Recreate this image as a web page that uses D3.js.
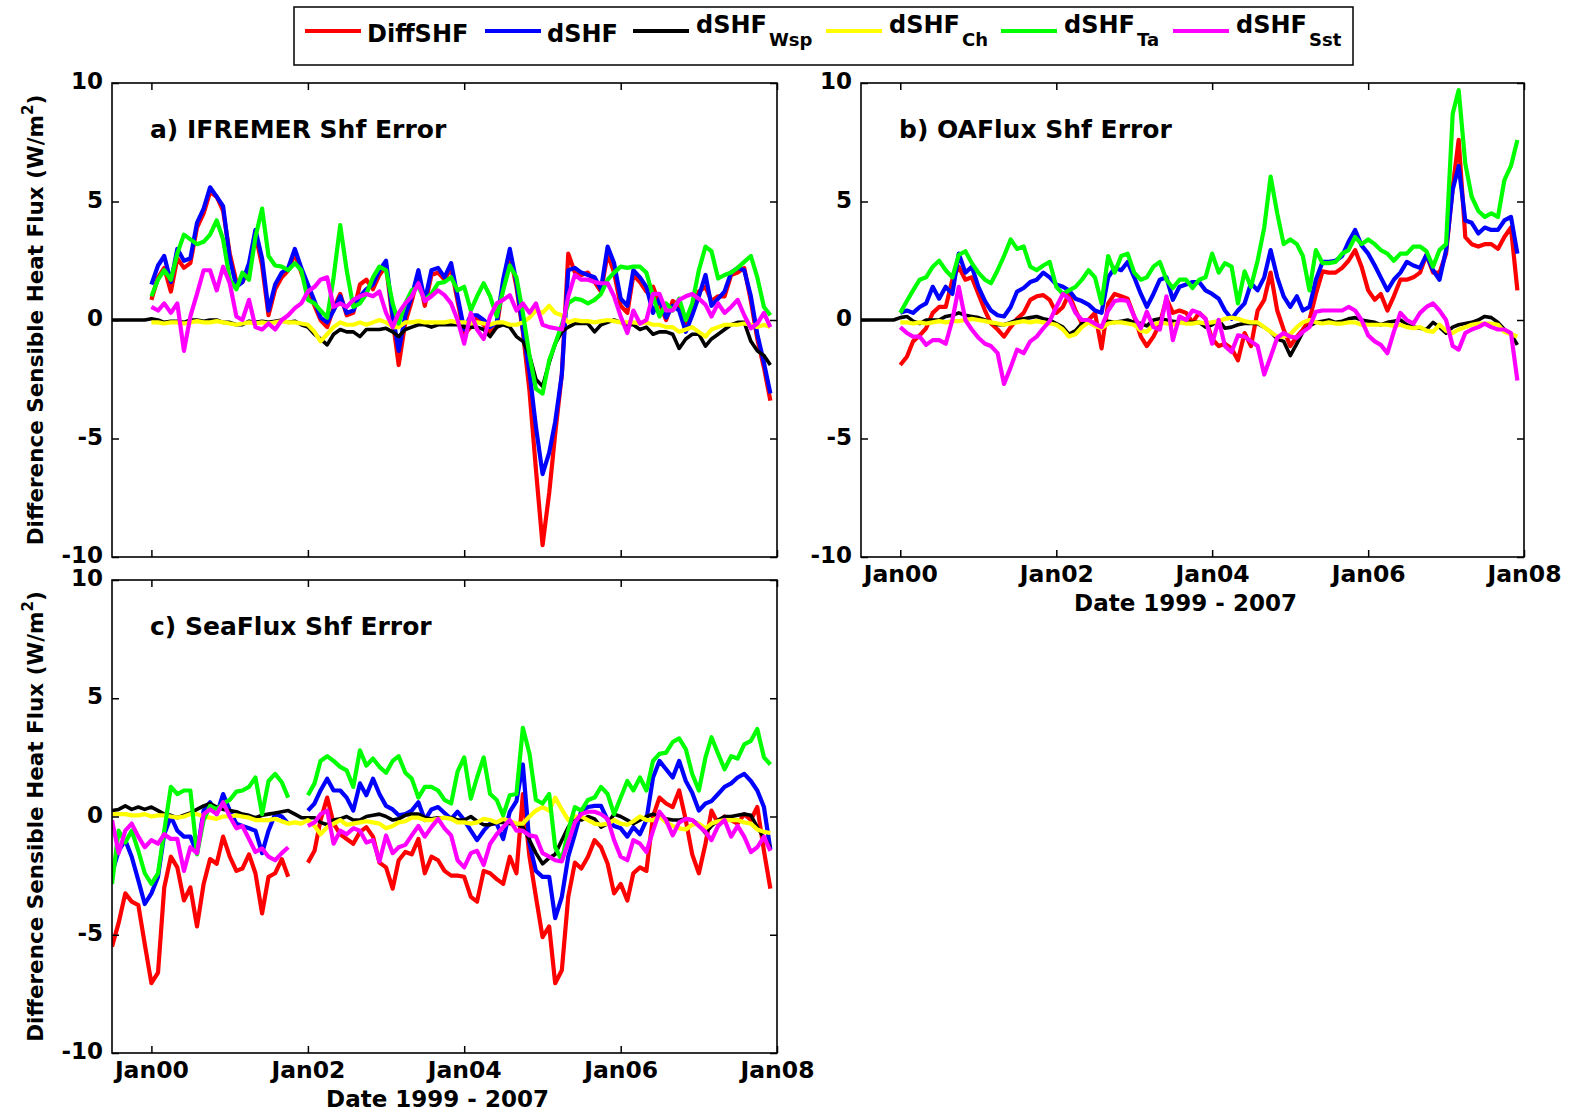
<!DOCTYPE html>
<html>
<head>
<meta charset="utf-8">
<script src="https://cdn.jsdelivr.net/npm/d3@7"></script>
<style>
  body { margin: 0; background: #fff; }
  svg text { font-family: "DejaVu Sans", "Liberation Sans", Arial, sans-serif; font-weight: bold; fill: #000; }
</style>
</head>
<body>
<svg id="fig" width="1572" height="1111"></svg>
<script>
// Monthly values, July 1999 .. December 2007 (102 months). null = no data.

// ---- a) IFREMER ----
const ifrDiff = [null,null,null,null,null,null,
  0.85,1.8,2.2,1.2,2.6,2.2,2.4,3.9,4.5,5.4,5.2,4.6,
  2.8,1.6,1.6,2.2,3.6,2.3,0.2,1.3,1.8,2.1,2.8,2.0,
  1.3,0.6,0.0,-0.3,0.5,1.1,0.2,0.3,1.5,1.7,1.3,1.9,
  2.3,0.0,-1.9,-0.1,0.8,1.9,0.6,1.9,2.0,1.7,2.2,0.8,
  -0.6,-0.3,0.1,-0.2,-0.5,-0.3,1.5,2.8,1.4,-0.5,-3.0,-6.3,
  -9.5,-7.3,-4.8,-2.3,2.8,2.0,1.9,2.0,1.6,1.2,2.8,2.0,
  0.6,0.3,1.9,1.6,1.2,1.4,0.7,0.0,0.8,0.6,-0.3,0.4,
  1.2,1.4,0.8,1.0,1.0,1.9,2.0,2.2,0.8,-0.8,-2.0,-3.4];
const ifrD = [null,null,null,null,null,null,
  1.5,2.3,2.7,1.6,3.0,2.5,2.6,4.1,4.7,5.6,5.2,4.8,
  2.6,1.4,1.6,2.4,3.8,2.6,0.4,1.5,2.0,2.2,3.0,2.2,
  1.5,0.8,0.1,-0.1,0.4,1.0,0.3,0.4,1.0,1.3,1.5,2.1,
  2.5,0.2,-1.3,0.2,1.0,2.1,0.8,2.1,2.2,1.8,2.4,1.0,
  -0.4,0.2,0.2,0.0,-0.3,-0.1,1.7,3.0,1.6,-0.4,-2.2,-4.5,
  -6.5,-5.6,-4.3,-2.3,2.1,2.2,2.0,1.9,1.8,1.3,3.1,2.4,
  0.9,0.6,2.1,1.8,1.4,0.3,0.9,0.1,0.6,0.4,-0.5,0.2,
  1.0,1.9,0.6,0.9,1.2,2.0,2.2,2.1,1.0,-0.6,-1.8,-3.1];
const ifrWsp = [0,0,0,0,0,0,
  0.05,0,-0.1,-0.05,-0.05,-0.1,0,0,-0.05,0,0,-0.1,
  -0.1,-0.2,-0.2,-0.05,-0.1,-0.05,-0.1,-0.05,0,-0.1,-0.05,-0.2,
  -0.3,-0.6,-0.8,-1.05,-0.6,-0.4,-0.5,-0.5,-0.7,-0.4,-0.4,-0.4,
  -0.35,-0.5,-0.7,-0.4,-0.3,-0.2,-0.2,-0.3,-0.2,-0.2,-0.2,-0.2,
  -0.3,-0.3,-0.3,-0.4,-0.7,-0.3,-0.2,-0.3,-0.7,-0.9,-1.5,-2.5,
  -2.8,-1.8,-1.0,-0.5,-0.3,-0.15,-0.15,-0.15,-0.5,-0.2,-0.1,0,
  -0.1,-0.2,-0.2,-0.4,-0.3,-0.6,-0.5,-0.5,-0.6,-1.2,-0.8,-0.6,
  -0.6,-1.1,-0.8,-0.6,-0.4,-0.2,-0.1,-0.1,-0.9,-1.3,-1.5,-1.9];
const ifrCh = [null,null,null,null,null,null,
  -0.1,-0.1,-0.15,-0.1,-0.1,-0.15,-0.1,-0.05,-0.1,-0.1,-0.05,-0.1,
  -0.15,-0.2,-0.15,-0.1,-0.15,-0.1,-0.15,-0.1,-0.05,-0.1,-0.1,-0.15,
  -0.2,-0.5,-0.9,-0.6,-0.3,-0.1,-0.2,-0.2,-0.1,-0.2,-0.1,0,
  -0.1,-0.3,-0.3,-0.1,-0.1,-0.05,-0.1,-0.1,-0.1,-0.1,-0.05,-0.1,
  -0.1,-0.15,-0.1,-0.15,-0.2,-0.1,-0.1,-0.2,-0.2,-0.1,0.1,0.4,
  0.3,0.6,0.3,0.2,-0.1,0,-0.05,-0.05,-0.1,-0.05,0,-0.05,
  -0.1,-0.1,-0.1,-0.15,-0.1,-0.2,-0.2,-0.3,-0.3,-0.5,-0.4,-0.3,
  -0.5,-0.7,-0.4,-0.3,-0.2,-0.2,-0.2,-0.15,-0.2,-0.3,-0.2,-0.3];
const ifrTa = [null,null,null,null,null,null,
  1.0,1.7,2.1,1.7,2.8,3.6,3.4,3.2,3.3,3.6,4.2,3.4,
  1.7,1.3,2.0,1.7,3.5,4.7,2.7,2.3,2.25,2.1,2.4,2.1,
  0.85,0.7,0.4,0.1,1.8,4.0,2.1,0.55,0.7,1.1,1.8,2.25,
  2.1,0.7,-0.15,0.7,1.25,1.4,0.85,1.1,1.55,1.6,1.8,1.25,
  1.4,0.4,1.0,1.55,1.0,0.15,1.25,2.3,1.8,0.3,-1.5,-2.9,
  -3.1,-1.7,-1.0,-0.2,0.7,0.9,0.85,0.7,0.85,1.1,1.7,2.0,
  2.25,2.2,2.25,2.25,2.0,1.0,0.15,0.7,0.4,0.9,0.0,0.7,
  2.1,3.1,2.9,1.75,1.9,2.0,2.2,2.45,2.7,1.8,0.55,0.2];
const ifrSst = [null,null,null,null,null,null,
  0.55,0.4,0.7,0.3,0.7,-1.3,0.15,1.1,2.1,2.1,1.25,2.25,
  1.55,0.15,0.0,0.85,-0.3,-0.4,-0.15,-0.4,0,0.2,0.5,0.7,
  1.2,1.4,1.7,1.8,0.55,0.7,0.55,0.85,1.0,1.1,1.0,1.2,
  0.3,-0.3,0.3,0.7,1.0,1.55,0.8,1.0,1.25,1.05,0.7,0,
  -1.0,0.3,-0.4,-0.8,0.15,0.7,0.85,1.05,0.4,0.7,0.3,0.7,
  -0.2,-0.3,-0.35,-0.4,1.0,1.9,1.7,1.7,1.6,1.55,1.55,1.0,
  0.15,-0.55,0.4,-0.15,0,1.1,1.1,0.4,0.4,0.85,1.0,1.1,
  0.9,0.65,0.15,0.7,0.3,0.55,0.85,0.2,-0.35,-0.15,0.3,-0.3];

// ---- b) OAFlux ----
const oafDiff = [null,null,null,null,null,null,
  -1.9,-1.55,-0.9,-0.65,-0.35,0.3,0.55,0.55,1.7,2.25,1.7,1.8,
  1.1,0.4,-0.15,-0.4,-0.7,-0.3,0.05,0.3,0.85,1.0,1.05,0.85,
  0.3,0.55,1.1,0.4,-0.15,0.0,0.3,-1.2,0.7,1.1,1.0,0.9,
  0.15,-0.7,-1.1,-0.7,-0.15,0.9,0.3,0.4,0.3,-0.1,0.3,0.05,
  -0.8,-1.1,-1.0,-1.2,-1.7,-0.55,-1.1,0.4,0.85,2.0,0.4,-0.4,
  -1.1,-0.7,-0.4,0.0,1.1,2.05,2.0,2.0,2.2,2.5,2.95,2.25,
  1.25,0.85,1.1,0.4,1.0,1.7,1.7,1.8,2.0,2.75,2.0,2.0,
  2.8,5.6,7.6,3.5,3.2,3.1,3.2,3.2,3.0,3.5,3.9,1.25];
const oafD = [null,null,null,null,null,null,
  0.3,0.4,0.3,0.55,0.7,1.4,0.9,1.4,1.1,2.8,2.0,2.25,
  1.4,0.8,0.4,0.2,0.15,0.55,1.2,1.35,1.6,1.7,2.0,1.8,
  1.5,1.4,1.25,0.9,0.8,0.65,0.4,0.3,1.8,2.2,2.1,2.45,
  1.8,1.1,0.55,1.1,1.7,1.8,0.85,1.4,1.5,1.6,1.6,1.25,
  1.1,0.9,0.4,0.05,0.4,0.7,1.55,1.25,1.8,2.95,1.8,1.0,
  0.55,1.0,0.4,0.55,1.7,2.45,2.45,2.5,2.7,3.3,3.8,3.15,
  2.8,2.3,1.8,1.25,1.7,2.0,2.45,2.3,2.2,2.75,2.1,1.7,
  2.95,5.5,6.5,4.2,4.1,3.65,3.9,3.8,3.8,4.2,4.35,2.8];
const oafWsp = [0,0,0,0,0,0,
  0.1,0.15,-0.05,-0.15,0,0,0,0.15,0.2,0.3,0.2,0.15,
  0.1,0,-0.1,-0.2,-0.2,-0.1,0,0.05,0.1,0.15,0.05,0,
  -0.15,-0.3,-0.6,-0.45,-0.15,0,-0.15,-0.35,-0.05,-0.1,-0.05,0,
  -0.1,-0.15,-0.25,0,0.05,0,-0.05,-0.1,-0.1,-0.1,-0.1,-0.3,
  -0.2,0,-0.35,-0.3,-0.2,-0.15,-0.15,-0.15,-0.3,-0.5,-0.8,-0.9,
  -1.5,-1.0,-0.5,-0.25,-0.1,-0.05,0,-0.1,-0.05,0.05,0.1,0,
  -0.05,-0.1,-0.2,-0.1,-0.05,0,-0.2,-0.3,-0.35,-0.4,-0.1,-0.3,
  -0.55,-0.3,-0.2,-0.15,-0.1,0,0.15,0.1,-0.1,-0.4,-0.6,-1.05];
const oafCh = [null,null,null,null,null,null,
  -0.1,-0.1,-0.15,-0.1,-0.15,-0.1,-0.05,-0.1,-0.05,-0.05,0,0.05,
  0,-0.05,-0.1,-0.15,-0.2,-0.15,-0.1,-0.05,-0.1,-0.05,-0.1,-0.15,
  -0.2,-0.4,-0.7,-0.6,-0.3,-0.1,-0.25,-0.35,-0.15,-0.1,-0.1,-0.15,
  -0.2,-0.45,-0.5,-0.2,-0.1,-0.15,-0.2,-0.1,-0.15,-0.15,-0.1,-0.15,
  -0.1,-0.05,0.05,0.1,0.05,-0.05,-0.1,-0.1,-0.3,-0.5,-0.7,-0.7,
  -0.6,-0.3,-0.1,0,-0.1,-0.15,-0.1,-0.15,-0.15,-0.1,-0.1,-0.2,
  -0.2,-0.2,-0.2,-0.2,-0.25,-0.2,-0.3,-0.35,-0.3,-0.45,-0.5,-0.2,
  -0.45,-0.55,-0.4,-0.3,-0.2,-0.15,-0.15,-0.15,-0.2,-0.5,-0.6,-0.7];
const oafTa = [null,null,null,null,null,null,
  0.3,0.8,1.25,1.7,1.8,2.25,2.5,2.1,1.8,2.75,2.9,2.4,
  2.0,1.7,1.55,2.1,2.7,3.4,3.0,3.1,2.25,2.1,2.3,2.45,
  1.4,1.1,1.25,1.4,1.7,2.1,1.8,0.7,2.7,2.0,2.7,2.8,
  2.0,1.7,1.8,2.25,2.45,1.7,1.35,1.7,1.7,1.35,1.7,1.8,
  2.8,2.0,2.4,2.25,0.7,2.05,1.4,2.5,3.9,6.05,4.5,3.2,
  3.4,3.2,2.7,1.25,2.95,2.4,2.4,2.45,2.8,2.95,3.5,3.2,
  3.4,3.2,2.95,2.8,2.5,2.8,2.8,3.1,3.1,2.9,2.25,2.95,
  3.2,8.7,9.7,6.6,5.2,4.6,4.35,4.5,4.35,5.9,6.5,7.6];
const oafSst = [null,null,null,null,null,null,
  -0.3,-0.55,-0.7,-0.7,-1.05,-0.85,-0.85,-1.0,0,1.4,0,-0.4,
  -0.75,-1.0,-1.1,-1.4,-2.7,-2.0,-1.25,-1.4,-0.9,-0.7,-0.35,-0.05,
  0.55,1.1,0.9,0.3,0,0,-0.15,-0.3,0.4,0.8,0.85,0.8,
  0.15,-0.35,0.35,-0.3,-0.4,1.0,-0.85,0.15,0.0,0.4,0.3,0.05,
  -1.0,0,-1.1,-1.35,-0.65,-0.7,-0.9,-1.1,-2.3,-1.55,-0.75,-0.55,
  -0.7,-0.75,-0.5,-0.3,0.35,0.4,0.4,0.4,0.4,0.55,0.4,0,
  -0.65,-0.9,-1.05,-1.4,-0.5,0.3,0,-0.15,0.3,0.55,0.7,0.4,
  0,-1.1,-1.25,-0.55,-0.4,-0.3,-0.15,-0.3,-0.4,-0.4,-0.55,-2.55];

// ---- c) SeaFlux ----
const sfxDiff = [-5.5,-4.5,-3.25,-3.6,-3.75,-5.4,
  -7.05,-6.6,-3.0,-1.7,-2.15,-3.55,-3.0,-4.65,-2.85,-1.8,-2.0,-0.85,
  -1.7,-2.3,-2.2,-1.6,-2.4,-4.1,-2.55,-2.4,-1.8,-2.55,null,null,
  -1.95,-1.45,-0.15,0.8,-0.3,-0.75,-0.95,-1.15,-0.65,-0.45,-0.85,-1.95,
  -2.15,-3.05,-1.85,-1.5,-1.6,-0.95,-2.4,-1.7,-1.85,-2.3,-2.5,-2.5,
  -2.55,-3.4,-3.6,-2.3,-2.4,-2.65,-2.85,-1.7,-2.4,0.95,-1.7,-3.4,
  -5.1,-4.65,-7.05,-6.5,-3.4,-1.95,-2.2,-1.7,-1.0,-1.3,-2.0,-3.25,
  -2.85,-3.55,-2.4,-2.15,-2.3,0,0.8,0.55,0.4,1.1,-0.15,-1.6,
  -2.4,-1.15,0.25,-0.3,0,-0.15,-0.3,0.1,-0.15,0.4,-1.45,-3.05];
const sfxD = [-2.4,-1.45,-1.0,-1.7,-2.7,-3.7,
  -3.25,-2.55,-0.75,0,-0.6,-0.85,-0.85,-1.55,0.25,0.6,0.1,0.95,
  0.25,-0.3,-0.4,-0.5,-0.6,-1.55,-0.6,0.1,0,-0.3,null,null,
  0.25,0.55,1.1,1.6,1.1,1.1,0.8,0.25,1.4,0.9,1.6,0.95,
  0.45,0.3,0.05,0.1,0.25,0.6,-0.15,0.3,0.4,0.15,-0.1,0.2,
  -0.15,-0.6,-1.0,-0.6,-0.3,-0.3,-0.95,0.2,0.65,2.2,-1.15,-2.3,
  -2.55,-2.55,-4.3,-3.4,-1.7,-0.75,0.25,0.4,0.45,0.45,-0.15,-0.4,
  -0.5,-0.85,-0.45,-0.75,-0.15,1.65,2.35,2.0,1.65,2.35,1.5,1.0,
  0.25,0.55,0.65,0.95,1.25,1.4,1.65,1.8,1.5,1.1,0.4,-1.4];
const sfxWsp = [0.25,0.3,0.45,0.3,0.4,0.3,
  0.4,0.25,0.1,0.05,-0.05,0.05,0.15,0.3,0.45,0.55,0.4,0.3,
  0.25,0.2,0.1,0.05,-0.05,0.05,0.1,0.15,0.2,0.25,0.1,-0.05,
  -0.05,-0.05,-0.25,-0.35,-0.15,-0.1,0,-0.15,-0.15,0,0.05,0.1,
  0,-0.15,-0.1,0.05,0.1,0.1,-0.05,-0.1,-0.05,-0.05,-0.05,-0.15,
  -0.15,0,-0.2,-0.35,-0.35,-0.25,-0.25,-0.3,-0.3,-0.45,-1.0,-1.55,
  -2.0,-1.75,-1.6,-1.0,-0.45,0,-0.15,0,-0.1,-0.45,-0.3,0.1,
  0,-0.15,-0.3,-0.15,0,0.1,0,-0.1,-0.15,-0.15,-0.1,-0.15,
  -0.35,-0.7,-0.4,-0.15,0,0,0.05,0.1,0.05,-0.45,-0.9,-1.3];
const sfxCh = [0.1,0.1,0.1,0.05,0.05,0.1,
  0,0.05,0.05,0,-0.05,0,0.1,0.1,0,-0.05,-0.1,0,
  0,0.05,0,-0.05,-0.15,-0.15,-0.15,-0.1,-0.2,-0.3,-0.25,-0.3,
  -0.15,-0.4,-0.75,-0.45,-0.3,-0.15,-0.35,-0.3,-0.25,-0.2,-0.25,-0.3,
  -0.5,-0.4,-0.25,-0.2,-0.05,-0.05,-0.15,-0.15,-0.1,-0.05,-0.1,-0.25,
  -0.25,-0.3,-0.25,-0.1,-0.15,-0.25,-0.1,-0.2,-0.3,-0.3,0,0.25,
  0.4,0.25,0.8,0.3,-0.15,0,0,-0.15,-0.3,-0.35,-0.3,-0.15,
  -0.3,-0.35,-0.2,0,-0.15,-0.15,0,-0.25,-0.4,-0.5,-0.55,-0.35,
  -0.3,-0.5,-0.3,-0.2,-0.15,-0.15,-0.15,-0.25,-0.3,-0.55,-0.65,-0.7];
const sfxTa = [-2.85,-0.6,-1.1,-0.6,-1.45,-2.4,
  -2.85,-2.4,-0.6,1.25,0.95,1.1,1.1,-1.6,-0.15,0.45,0.3,0.55,
  0.7,1.05,1.1,1.25,1.65,0.1,1.5,1.8,1.45,0.8,null,null,
  0.9,1.4,2.35,2.55,2.35,2.1,1.95,1.25,2.8,2.15,2.45,2.1,
  1.85,2.35,2.55,1.85,1.6,0.8,1.25,1.25,1.1,0.7,0.55,1.9,
  2.5,0.75,1.65,2.5,0.95,0.7,0.05,0.9,0.95,3.75,2.65,0.7,
  0.55,0.95,-1.3,-1.85,-0.6,0.4,0.25,0.7,0.8,1.25,0.95,0.1,
  0.8,1.5,1.1,1.65,1.1,2.35,2.65,2.7,3.15,3.3,2.85,1.8,
  1.1,2.5,3.35,2.65,2.0,2.55,2.45,3.05,3.2,3.7,2.5,2.2];
const sfxSst = [-0.15,-1.55,-0.6,-0.3,-0.85,-1.3,
  -1.0,-1.15,-0.75,-0.95,-0.95,-2.3,-1.3,-1.55,0.1,0.3,0.1,0.6,
  0,-0.5,-0.4,-0.95,-1.5,-1.35,-1.7,-1.85,-1.55,-1.3,null,null,
  -0.4,-0.25,0.1,0.25,-1.15,-0.6,-0.75,-0.5,-0.6,-1.1,-1.0,-1.9,
  -0.8,-1.55,-1.3,-1.2,-0.8,-0.4,-0.85,-0.45,-0.1,-0.5,-0.8,-1.85,
  -2.15,-1.55,-1.45,-2.05,-1.15,-0.75,-0.45,-0.15,-0.6,-0.6,-0.8,-0.85,
  -1.55,-1.7,-1.85,-1.9,-1.1,-0.25,0.1,0.2,0.2,0.1,-0.1,-1.0,
  -1.7,-1.85,-1.0,-1.15,-1.5,-0.6,0.2,-0.15,-0.8,-0.25,-0.1,-0.15,
  -0.4,-0.65,-1.0,-0.4,-0.15,-0.85,-0.4,-0.85,-1.5,-1.3,-0.85,-1.45];

// ---- shared labels ----
const seriesColors = ["#ff0000", "#0000ff", "#000000", "#ffff00", "#00ff00", "#ff00ff"];
const legendMain = ["DiffSHF", "dSHF", "dSHF", "dSHF", "dSHF", "dSHF"];
const legendSub = [null, null, "Wsp", "Ch", "Ta", "Sst"];
const yTickValues = [-10, -5, 0, 5, 10];
const xTickYears = [2000, 2002, 2004, 2006, 2008];
const xTickLabels = ["Jan00", "Jan02", "Jan04", "Jan06", "Jan08"];
const xTitle = "Date 1999 - 2007";

const months = d3.timeMonths(new Date(1999, 6, 1), new Date(2008, 0, 1));
const xTickDates = xTickYears.map(y => new Date(y, 0, 1));

const svg = d3.select("#fig");

const panels = [
  { key: "a", title: "a) IFREMER Shf Error", left: 112, top: 83, w: 665, h: 474,
    series: [ifrDiff, ifrD, ifrWsp, ifrCh, ifrTa, ifrSst], xLabels: false, yTitle: true },
  { key: "b", title: "b) OAFlux Shf Error", left: 861, top: 83, w: 663, h: 474,
    series: [oafDiff, oafD, oafWsp, oafCh, oafTa, oafSst], xLabels: true, yTitle: false },
  { key: "c", title: "c) SeaFlux Shf Error", left: 112, top: 580, w: 665, h: 473,
    series: [sfxDiff, sfxD, sfxWsp, sfxCh, sfxTa, sfxSst], xLabels: true, yTitle: true }
];

panels.forEach(p => {
  const x = d3.scaleTime()
    .domain([new Date(1999, 6, 1), new Date(2008, 0, 1)])
    .range([p.left, p.left + p.w]);
  const y = d3.scaleLinear().domain([-10, 10]).range([p.top + p.h, p.top]);

  const g = svg.append("g").attr("class", "panel-" + p.key);

  g.append("rect")
    .attr("x", p.left).attr("y", p.top).attr("width", p.w).attr("height", p.h)
    .attr("fill", "#fff");

  const clipId = "clip-" + p.key;
  svg.append("clipPath").attr("id", clipId)
    .append("rect").attr("x", p.left).attr("y", p.top).attr("width", p.w).attr("height", p.h);

  const line = d3.line()
    .defined(d => d.v !== null && d.v !== undefined)
    .x(d => x(d.t))
    .y(d => y(d.v));

  const lines = g.append("g").attr("clip-path", `url(#${clipId})`);
  p.series.forEach((vals, i) => {
    const pts = months.map((t, k) => ({ t, v: vals[k] }));
    lines.append("path")
      .datum(pts)
      .attr("d", line)
      .attr("fill", "none")
      .attr("stroke", seriesColors[i])
      .attr("stroke-width", i === 2 ? 3.6 : 4.2)
      .attr("stroke-linejoin", "round")
      .attr("stroke-linecap", "butt");
  });

  // axes: ticks point inward on all four sides
  const bottom = g.append("g").attr("transform", `translate(0,${p.top + p.h})`)
    .call(d3.axisBottom(x).tickValues(xTickDates)
      .tickFormat((d, i) => p.xLabels ? xTickLabels[i] : "")
      .tickSizeInner(-7).tickSizeOuter(0).tickPadding(9));
  const top = g.append("g").attr("transform", `translate(0,${p.top})`)
    .call(d3.axisTop(x).tickValues(xTickDates).tickFormat("")
      .tickSizeInner(-7).tickSizeOuter(0));
  const leftAx = g.append("g").attr("transform", `translate(${p.left},0)`)
    .call(d3.axisLeft(y).tickValues(yTickValues).tickFormat(d => String(d))
      .tickSizeInner(-7).tickSizeOuter(0).tickPadding(9));
  const rightAx = g.append("g").attr("transform", `translate(${p.left + p.w},0)`)
    .call(d3.axisRight(y).tickValues(yTickValues).tickFormat("")
      .tickSizeInner(-7).tickSizeOuter(0));

  [bottom, top, leftAx, rightAx].forEach(a => {
    a.select(".domain").remove();
    a.selectAll(".tick line").attr("stroke", "#000").attr("stroke-width", 1.5);
    a.selectAll(".tick text")
      .attr("font-size", 23)
      .attr("font-family", "DejaVu Sans, sans-serif")
      .attr("font-weight", "bold")
      .attr("fill", "#000");
  });
  bottom.selectAll(".tick text").attr("font-size", 23.5).attr("dy", "0.66em");
  leftAx.selectAll(".tick text").attr("dy", "0.24em");

  g.append("rect")
    .attr("x", p.left).attr("y", p.top).attr("width", p.w).attr("height", p.h)
    .attr("fill", "none").attr("stroke", "#000").attr("stroke-width", 1.6);

  g.append("text")
    .attr("x", p.left + 38).attr("y", p.top + 55)
    .attr("font-size", 25)
    .text(p.title);

  if (p.xLabels) {
    g.append("text")
      .attr("x", p.left + p.w / 2 - 7).attr("y", p.top + p.h + 54)
      .attr("text-anchor", "middle").attr("font-size", 23)
      .text(xTitle);
  }

  if (p.yTitle) {
    const cy = p.top + p.h / 2;
    const t = g.append("text")
      .attr("transform", `translate(43,${cy}) rotate(-90)`)
      .attr("text-anchor", "middle").attr("font-size", 21.5);
    t.append("tspan").text("Difference Sensible Heat Flux (W/m");
    t.append("tspan").attr("dy", -10).attr("font-size", 15).text("2");
    t.append("tspan").attr("dy", 10).text(")");
  }
});

// legend
const legend = svg.append("g").attr("class", "legend");
legend.append("rect")
  .attr("x", 294).attr("y", 7).attr("width", 1059).attr("height", 58)
  .attr("fill", "#fff").attr("stroke", "#000").attr("stroke-width", 1.5);

const legendLineX = [305, 485, 633, 826, 1001, 1173];
legendLineX.forEach((lx, i) => {
  legend.append("line")
    .attr("x1", lx).attr("x2", lx + 56).attr("y1", 31).attr("y2", 31)
    .attr("stroke", seriesColors[i]).attr("stroke-width", 4);
  if (legendSub[i] === null) {
    legend.append("text").attr("x", lx + 62).attr("y", 42)
      .attr("font-size", 24).text(legendMain[i]);
  } else {
    const t = legend.append("text").attr("x", lx + 63).attr("y", 33).attr("font-size", 24);
    t.append("tspan").text(legendMain[i]);
    t.append("tspan").attr("dx", 2).attr("dy", 13).attr("font-size", 18).text(legendSub[i]);
  }
});
</script>
</body>
</html>
